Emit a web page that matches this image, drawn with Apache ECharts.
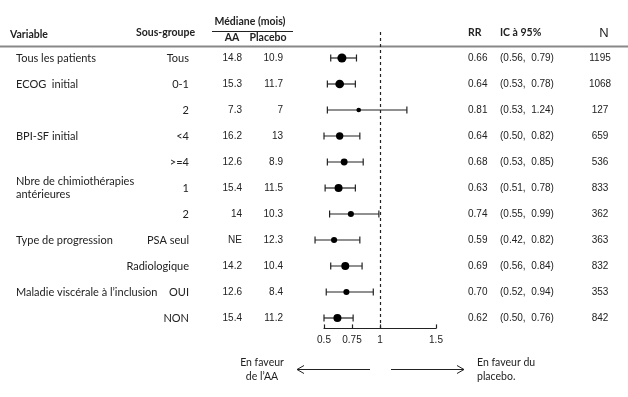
<!DOCTYPE html>
<html>
<head>
<meta charset="utf-8">
<script src="https://cdn.jsdelivr.net/npm/echarts@6/dist/echarts.min.js"></script>
<style>
html, body { margin: 0; padding: 0; background: #fff; }
#main { width: 628px; height: 397px; }
</style>
</head>
<body>
<div id="main"></div>
<script>
// données du forest plot
const variables = ['Tous les patients', 'ECOG  initial', '', 'BPI-SF initial', '', 'Nbre de chimiothérapies\nantérieures', '', 'Type de progression', '', 'Maladie viscérale à l\u2019inclusion', '']
const subgroups = ['Tous', '0-1', '2', '<4', '>=4', '1', '2', 'PSA seul', 'Radiologique', 'OUI', 'NON']
const medianAA = ['14.8', '15.3', '7.3', '16.2', '12.6', '15.4', '14', 'NE', '14.2', '12.6', '15.4']
const medianPlacebo = ['10.9', '11.7', '7', '13', '8.9', '11.5', '10.3', '12.3', '10.4', '8.4', '11.2']
const rr = [0.66, 0.64, 0.81, 0.64, 0.68, 0.63, 0.74, 0.59, 0.69, 0.70, 0.62]
const ciLow = [0.56, 0.53, 0.53, 0.50, 0.53, 0.51, 0.55, 0.42, 0.56, 0.52, 0.50]
const ciHigh = [0.79, 0.78, 1.24, 0.82, 0.85, 0.78, 0.99, 0.82, 0.84, 0.94, 0.76]
const patients = [1195, 1068, 127, 659, 536, 833, 362, 363, 832, 353, 842]
const xTicks = [0.5, 0.75, 1, 1.5]

const textFont = 'Lato'
const numFont = 'Liberation Sans'
const ink = '#222'

const rows = rr.map((v, i) => [v, i, ciLow[i], ciHigh[i], patients[i]])

const chart = echarts.init(document.getElementById('main'))

function renderForest (params, api) {
  const row = api.value(1)
  const c = api.coord([api.value(0), row])
  const lo = api.coord([api.value(2), row])
  const hi = api.coord([api.value(3), row])
  const r = (2.5 + 0.19 * Math.sqrt(api.value(4))) / 2
  const style = { stroke: ink, lineWidth: 1.2 }
  return {
    type: 'group',
    children: [
      { type: 'line', shape: { x1: lo[0], y1: c[1], x2: hi[0], y2: c[1] }, style: style },
      { type: 'line', shape: { x1: lo[0], y1: c[1] - 3.5, x2: lo[0], y2: c[1] + 3.5 }, style: style },
      { type: 'line', shape: { x1: hi[0], y1: c[1] - 3.5, x2: hi[0], y2: c[1] + 3.5 }, style: style },
      { type: 'circle', shape: { cx: c[0], cy: c[1], r: r }, style: { fill: '#000' } }
    ]
  }
}

// colonnes de texte, alignées sur les lignes de l'axe y
function renderTable (params, api) {
  const i = params.dataIndex
  const y = api.coord([1, i])[1]
  const txt = (x, text, align, font) => ({
    type: 'text',
    x: x,
    y: y,
    style: { text: text, align: align, verticalAlign: 'middle', fill: ink, font: font, lineHeight: 13 }
  })
  return {
    type: 'group',
    children: [
      txt(16, variables[i], 'left', '11px ' + textFont),
      txt(189, subgroups[i], 'right', '11px ' + textFont),
      txt(242, medianAA[i], 'right', '10px ' + numFont),
      txt(283, medianPlacebo[i], 'right', '10px ' + numFont),
      txt(468, rr[i].toFixed(2), 'left', '10px ' + numFont),
      txt(500, '(' + ciLow[i].toFixed(2) + ',  ' + ciHigh[i].toFixed(2) + ')', 'left', '10px ' + numFont),
      txt(600, String(patients[i]), 'center', '10px ' + numFont)
    ]
  }
}

const bold = 'bold 10.5px ' + textFont

const option = {
  animation: false,
  grid: { left: 324, right: 192, top: 32, height: 296.4 },
  xAxis: {
    type: 'value',
    min: 0.5,
    max: 1.5,
    axisLine: { onZero: false, lineStyle: { color: ink, width: 1.2 } },
    axisTick: { inside: true, length: 4, customValues: xTicks, lineStyle: { color: ink, width: 1.2 } },
    axisLabel: { customValues: xTicks, margin: 7, color: ink, fontFamily: numFont, fontSize: 10 },
    splitLine: { show: false }
  },
  yAxis: {
    type: 'value',
    inverse: true,
    min: -1,
    max: 10.4,
    show: false
  },
  series: [
    {
      type: 'custom',
      renderItem: renderTable,
      data: rows,
      silent: true
    },
    {
      type: 'custom',
      renderItem: renderForest,
      data: rows,
      markLine: {
        silent: true,
        symbol: 'none',
        label: { show: false },
        lineStyle: { color: ink, type: [3, 3], width: 1.2 },
        data: [{ xAxis: 1 }]
      }
    }
  ],
  graphic: [
    // en-têtes
    { type: 'text', x: 10, y: 35, style: { text: 'Variable', font: bold, fill: ink, verticalAlign: 'middle' } },
    { type: 'text', x: 136, y: 33, style: { text: 'Sous-groupe', font: bold, fill: ink, verticalAlign: 'middle' } },
    { type: 'text', x: 250, y: 22, style: { text: 'Médiane (mois)', font: bold, fill: ink, align: 'center', verticalAlign: 'middle' } },
    { type: 'line', shape: { x1: 212, y1: 31.5, x2: 293, y2: 31.5 }, style: { stroke: ink, lineWidth: 1 } },
    { type: 'text', x: 232, y: 38, style: { text: 'AA', font: bold, fill: ink, align: 'center', verticalAlign: 'middle' } },
    { type: 'text', x: 268, y: 38, style: { text: 'Placebo', font: bold, fill: ink, align: 'center', verticalAlign: 'middle' } },
    { type: 'text', x: 468, y: 33, style: { text: 'RR', font: bold, fill: ink, verticalAlign: 'middle' } },
    { type: 'text', x: 500, y: 33, style: { text: 'IC à 95%', font: bold, fill: ink, verticalAlign: 'middle' } },
    { type: 'text', x: 604, y: 33, style: { text: 'N', font: '13px ' + numFont, fill: ink, align: 'center', verticalAlign: 'middle' } },
    { type: 'line', shape: { x1: 0, y1: 46.5, x2: 628, y2: 46.5 }, style: { stroke: '#888', lineWidth: 2 } },
    // flèches du bas
    { type: 'text', x: 262, y: 370, style: { text: 'En faveur\nde l\u2019AA', font: '10.5px ' + textFont, fill: ink, align: 'center', verticalAlign: 'middle', lineHeight: 14 } },
    { type: 'text', x: 477, y: 370, style: { text: 'En faveur du\nplacebo.', font: '10.5px ' + textFont, fill: ink, align: 'left', verticalAlign: 'middle', lineHeight: 14 } },
    { type: 'line', shape: { x1: 297, y1: 369.5, x2: 370, y2: 369.5 }, style: { stroke: ink, lineWidth: 1 } },
    { type: 'polyline', shape: { points: [[304, 365.5], [297, 369.5], [304, 373.5]] }, style: { stroke: ink, lineWidth: 1, fill: null } },
    { type: 'line', shape: { x1: 391, y1: 369.5, x2: 464, y2: 369.5 }, style: { stroke: ink, lineWidth: 1 } },
    { type: 'polyline', shape: { points: [[457, 365.5], [464, 369.5], [457, 373.5]] }, style: { stroke: ink, lineWidth: 1, fill: null } }
  ]
}

chart.setOption(option)
</script>
</body>
</html>
